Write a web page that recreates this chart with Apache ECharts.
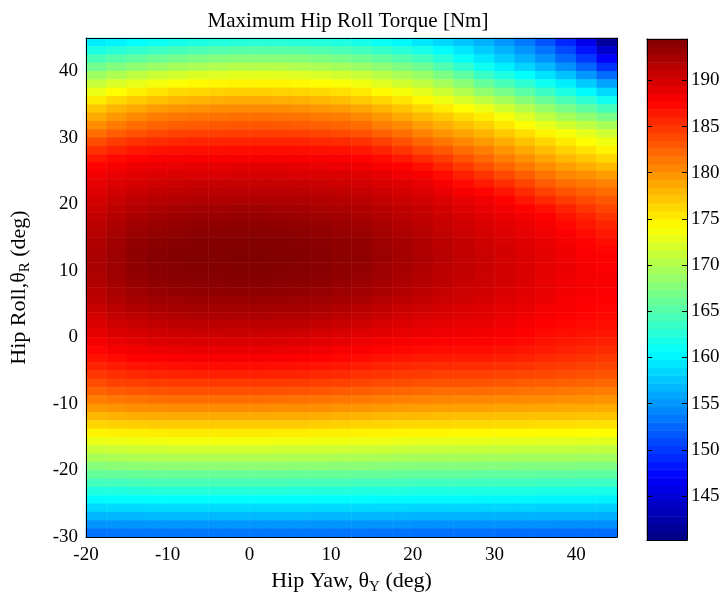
<!DOCTYPE html>
<html><head><meta charset="utf-8">
<script src="https://cdn.jsdelivr.net/npm/echarts@6/dist/echarts.min.js"></script>
<style>html,body{margin:0;padding:0;background:#fff}#c{width:725px;height:602px}</style>
</head><body><div id="c"></div>
<script>
// Hip yaw cell centres (deg), left to right
const yawCenters = [-18.75,-16.25,-13.75,-11.25,-8.75,-6.25,-3.75,-1.25,1.25,3.75,6.25,8.75,11.25,13.75,16.25,18.75,21.25,23.75,26.25,28.75,31.25,33.75,36.25,38.75,41.25,43.75];
// Hip roll cell centres (deg), top to bottom
const rollCenters = [44.375,43.125,41.875,40.625,39.375,38.125,36.875,35.625,34.375,33.125,31.875,30.625,29.375,28.125,26.875,25.625,24.375,23.125,21.875,20.625,19.375,18.125,16.875,15.625,14.375,13.125,11.875,10.625,9.375,8.125,6.875,5.625,4.375,3.125,1.875,0.625,-0.625,-1.875,-3.125,-4.375,-5.625,-6.875,-8.125,-9.375,-10.625,-11.875,-13.125,-14.375,-15.625,-16.875,-18.125,-19.375,-20.625,-21.875,-23.125,-24.375,-25.625,-26.875,-28.125,-29.375];
// Maximum hip roll torque [Nm], one row per roll centre (top to bottom), one value per yaw centre
const torqueRows = [
[159.6,160.0,160.6,161.1,161.6,162.0,162.3,162.5,162.6,162.6,162.5,162.4,162.1,161.6,161.0,160.2,159.3,158.5,157.5,156.5,155.1,153.5,151.5,149.1,146.0,141.8],
[162.0,162.6,163.2,163.7,164.2,164.6,164.9,165.1,165.2,165.2,165.1,164.8,164.5,164.0,163.4,162.6,161.7,160.5,159.3,157.9,156.5,154.9,153.1,150.9,148.0,144.3],
[164.3,165.1,165.7,166.3,166.8,167.2,167.5,167.7,167.7,167.7,167.6,167.3,166.9,166.4,165.7,164.9,164.0,162.6,161.0,159.4,157.9,156.4,154.8,152.6,150.0,146.8],
[166.6,167.5,168.2,168.8,169.3,169.7,170.0,170.2,170.2,170.2,170.0,169.7,169.3,168.8,168.1,167.3,166.4,164.8,163.1,161.3,159.8,158.3,156.8,154.8,152.4,149.6],
[168.9,169.8,170.7,171.3,171.8,172.2,172.4,172.6,172.6,172.5,172.3,172.0,171.7,171.2,170.4,169.6,168.7,167.2,165.6,163.6,162.1,160.6,159.1,157.3,155.1,152.7],
[171.1,172.1,172.9,173.5,174.0,174.4,174.6,174.8,174.8,174.7,174.5,174.2,173.9,173.4,172.5,171.7,170.8,169.4,167.9,166.0,164.5,163.0,161.4,159.7,157.8,155.7],
[173.2,174.2,175.0,175.6,176.1,176.4,176.6,176.7,176.7,176.6,176.4,176.1,175.8,175.3,174.4,173.6,172.7,171.4,170.0,168.3,166.9,165.4,163.8,162.1,160.4,158.6],
[175.2,176.2,176.9,177.5,178.0,178.3,178.5,178.6,178.6,178.5,178.3,178.0,177.6,177.1,176.3,175.5,174.5,173.3,172.1,170.7,169.3,167.8,166.2,164.5,163.0,161.4],
[177.1,178.1,178.8,179.4,179.8,180.0,180.2,180.3,180.3,180.2,180.0,179.7,179.4,178.9,178.1,177.2,176.2,175.2,174.2,173.1,171.7,170.2,168.5,167.0,165.6,164.2],
[178.7,179.7,180.4,181.0,181.4,181.6,181.7,181.8,181.8,181.7,181.6,181.3,181.0,180.5,179.7,178.8,177.8,176.9,176.0,175.1,173.7,172.3,170.8,169.4,168.2,166.9],
[180.2,181.2,181.9,182.4,182.7,182.9,183.0,183.1,183.1,183.0,182.9,182.6,182.3,181.9,181.1,180.3,179.3,178.4,177.5,176.6,175.4,174.2,172.9,171.7,170.7,169.5],
[181.8,182.8,183.4,183.9,184.2,184.3,184.3,184.4,184.4,184.4,184.3,184.1,183.8,183.4,182.6,181.8,180.8,179.9,179.0,178.1,177.0,175.9,174.8,173.7,172.7,171.6],
[183.6,184.5,185.1,185.4,185.7,185.8,185.8,185.9,185.9,185.9,185.8,185.6,185.4,185.1,184.3,183.4,182.3,181.4,180.5,179.6,178.5,177.4,176.3,175.2,174.2,173.3],
[185.2,185.9,186.5,186.8,186.9,187.0,187.0,187.1,187.1,187.1,187.0,186.9,186.8,186.5,185.8,184.9,183.9,183.0,182.0,181.0,179.9,178.8,177.7,176.6,175.7,174.8],
[186.6,187.2,187.6,187.9,188.0,188.1,188.1,188.2,188.2,188.2,188.1,188.0,187.9,187.6,187.1,186.4,185.5,184.5,183.3,182.2,181.1,180.0,179.0,177.9,177.1,176.3],
[187.7,188.2,188.6,188.8,188.9,189.0,189.0,189.1,189.1,189.1,189.0,188.9,188.8,188.6,188.1,187.6,186.9,185.8,184.7,183.5,182.4,181.3,180.3,179.3,178.5,177.8],
[188.4,188.9,189.3,189.5,189.7,189.8,189.8,189.9,189.9,189.9,189.8,189.7,189.6,189.4,189.0,188.5,188.0,187.1,186.0,185.0,183.9,182.7,181.6,180.6,180.0,179.4],
[189.0,189.5,189.9,190.2,190.4,190.6,190.6,190.7,190.7,190.7,190.6,190.5,190.3,190.1,189.7,189.3,188.8,188.1,187.2,186.3,185.3,184.1,182.9,182.0,181.3,180.8],
[189.5,190.1,190.6,190.9,191.1,191.3,191.3,191.4,191.4,191.4,191.3,191.2,191.0,190.8,190.4,190.0,189.5,188.8,188.1,187.5,186.6,185.4,184.2,183.3,182.6,182.0],
[190.0,190.7,191.2,191.5,191.7,191.9,191.9,192.0,192.0,192.0,191.9,191.8,191.6,191.4,191.0,190.5,190.1,189.5,188.9,188.4,187.6,186.6,185.6,184.6,183.8,183.1],
[190.5,191.2,191.7,192.1,192.4,192.6,192.6,192.7,192.7,192.6,192.5,192.3,192.1,191.9,191.5,191.0,190.6,190.0,189.4,188.9,188.3,187.6,186.9,185.9,184.9,184.1],
[190.9,191.6,192.2,192.6,192.9,193.1,193.1,193.2,193.2,193.1,193.0,192.8,192.6,192.3,191.9,191.4,191.0,190.4,189.9,189.3,188.8,188.3,187.7,186.8,185.9,185.0],
[191.3,192.1,192.7,193.1,193.4,193.6,193.6,193.7,193.7,193.6,193.5,193.3,193.0,192.7,192.3,191.8,191.3,190.7,190.2,189.7,189.2,188.7,188.2,187.4,186.6,185.8],
[191.6,192.4,193.1,193.5,193.7,193.9,193.9,194.0,194.0,193.9,193.8,193.6,193.3,193.1,192.6,192.1,191.6,191.0,190.5,190.0,189.5,189.0,188.5,187.9,187.1,186.5],
[191.9,192.7,193.4,193.8,194.0,194.2,194.2,194.3,194.3,194.2,194.1,193.9,193.6,193.4,192.9,192.4,191.8,191.3,190.8,190.3,189.8,189.3,188.8,188.2,187.6,187.0],
[192.1,192.9,193.6,194.0,194.2,194.3,194.3,194.4,194.4,194.3,194.2,194.0,193.7,193.5,193.0,192.5,191.9,191.4,190.9,190.5,190.0,189.5,189.0,188.4,187.9,187.5],
[192.2,193.0,193.7,194.1,194.3,194.4,194.4,194.5,194.5,194.4,194.3,194.1,193.8,193.6,193.1,192.6,192.0,191.5,191.0,190.6,190.1,189.6,189.1,188.5,188.1,187.8],
[192.2,193.0,193.6,194.0,194.2,194.3,194.3,194.4,194.4,194.3,194.2,194.0,193.7,193.5,193.0,192.5,191.9,191.4,191.0,190.6,190.1,189.6,189.1,188.6,188.2,187.9],
[192.1,192.9,193.5,193.9,194.1,194.2,194.2,194.3,194.3,194.2,194.1,193.9,193.6,193.3,192.8,192.3,191.8,191.3,190.9,190.5,190.1,189.6,189.0,188.6,188.3,188.0],
[191.9,192.6,193.2,193.6,193.8,193.9,193.9,194.0,194.0,193.9,193.8,193.6,193.3,193.0,192.5,192.1,191.6,191.1,190.7,190.4,190.0,189.5,188.9,188.5,188.2,188.0],
[191.6,192.3,192.9,193.3,193.5,193.6,193.6,193.7,193.7,193.6,193.5,193.3,193.0,192.7,192.2,191.8,191.3,190.8,190.5,190.2,189.8,189.3,188.8,188.4,188.1,187.9],
[191.2,191.9,192.4,192.8,193.0,193.1,193.1,193.2,193.2,193.1,193.0,192.8,192.5,192.2,191.7,191.3,190.9,190.5,190.2,189.9,189.5,189.1,188.6,188.2,187.9,187.7],
[190.7,191.4,191.9,192.2,192.4,192.6,192.6,192.6,192.6,192.5,192.4,192.2,191.9,191.5,191.1,190.7,190.4,190.0,189.7,189.5,189.1,188.8,188.3,188.0,187.7,187.5],
[190.1,190.8,191.3,191.6,191.8,192.0,192.0,192.0,192.0,191.9,191.8,191.6,191.3,190.9,190.5,190.1,189.8,189.6,189.3,189.1,188.8,188.4,188.0,187.7,187.5,187.3],
[189.6,190.2,190.6,190.9,191.1,191.3,191.3,191.3,191.3,191.2,191.1,190.9,190.6,190.2,189.8,189.5,189.2,189.1,188.9,188.8,188.5,188.1,187.7,187.4,187.2,187.0],
[189.0,189.5,189.9,190.2,190.4,190.5,190.5,190.6,190.5,190.4,190.3,190.1,189.8,189.4,189.1,188.9,188.6,188.5,188.4,188.3,188.0,187.7,187.3,187.0,186.8,186.6],
[188.3,188.8,189.2,189.5,189.6,189.7,189.7,189.7,189.7,189.6,189.5,189.3,189.0,188.7,188.4,188.2,187.9,187.8,187.8,187.8,187.5,187.2,186.8,186.5,186.3,186.1],
[187.5,188.0,188.4,188.7,188.8,188.9,188.9,188.9,188.9,188.8,188.7,188.5,188.2,187.9,187.6,187.4,187.2,187.1,187.1,187.1,186.8,186.6,186.3,186.0,185.7,185.5],
[186.7,187.2,187.6,187.8,187.9,188.0,188.0,188.0,188.0,187.9,187.8,187.6,187.4,187.1,186.8,186.6,186.4,186.3,186.3,186.3,186.1,185.9,185.6,185.3,185.0,184.8],
[185.8,186.3,186.7,186.9,187.0,187.1,187.1,187.1,187.1,187.0,186.9,186.7,186.5,186.2,185.9,185.7,185.5,185.4,185.4,185.4,185.2,185.0,184.8,184.6,184.3,184.1],
[184.8,185.3,185.6,185.8,185.9,186.0,186.0,186.0,186.0,185.9,185.8,185.6,185.4,185.1,184.9,184.7,184.5,184.4,184.4,184.3,184.2,184.0,183.9,183.7,183.4,183.2],
[183.7,184.2,184.4,184.6,184.7,184.7,184.7,184.7,184.7,184.6,184.5,184.4,184.2,184.0,183.8,183.6,183.4,183.3,183.3,183.2,183.1,182.9,182.8,182.6,182.4,182.2],
[182.4,182.9,183.1,183.3,183.4,183.4,183.4,183.4,183.4,183.3,183.2,183.1,182.9,182.7,182.5,182.3,182.1,182.0,182.0,181.9,181.8,181.7,181.6,181.4,181.2,181.1],
[181.1,181.4,181.6,181.8,181.9,181.9,181.9,181.9,181.9,181.8,181.7,181.6,181.4,181.3,181.1,180.9,180.8,180.7,180.6,180.6,180.5,180.4,180.3,180.1,180.0,179.9],
[179.6,179.9,180.1,180.2,180.3,180.3,180.3,180.3,180.3,180.2,180.2,180.1,179.9,179.8,179.6,179.4,179.3,179.2,179.1,179.1,179.0,179.0,178.9,178.8,178.7,178.6],
[178.0,178.3,178.5,178.6,178.7,178.7,178.7,178.7,178.7,178.6,178.6,178.5,178.3,178.2,178.0,177.9,177.8,177.7,177.6,177.6,177.5,177.5,177.4,177.4,177.3,177.2],
[176.4,176.6,176.8,176.9,177.0,177.0,177.0,177.0,177.0,176.9,176.9,176.8,176.6,176.5,176.4,176.3,176.2,176.2,176.1,176.1,176.0,176.0,175.9,175.9,175.8,175.7],
[174.7,174.9,175.0,175.1,175.2,175.2,175.2,175.2,175.2,175.1,175.1,175.0,175.0,174.9,174.8,174.7,174.6,174.6,174.5,174.5,174.4,174.4,174.3,174.3,174.2,174.2],
[173.0,173.2,173.3,173.4,173.5,173.5,173.5,173.5,173.5,173.4,173.4,173.3,173.3,173.2,173.1,173.0,172.9,172.9,172.8,172.8,172.7,172.7,172.6,172.6,172.5,172.5],
[171.2,171.4,171.5,171.6,171.7,171.7,171.7,171.7,171.7,171.6,171.6,171.5,171.5,171.4,171.3,171.2,171.1,171.1,171.0,171.0,171.0,170.9,170.9,170.9,170.8,170.8],
[169.5,169.7,169.8,169.9,169.9,169.9,169.9,169.9,169.9,169.9,169.8,169.8,169.7,169.7,169.6,169.5,169.4,169.4,169.4,169.3,169.3,169.2,169.2,169.2,169.1,169.1],
[167.7,167.9,168.0,168.1,168.1,168.1,168.1,168.1,168.1,168.1,168.0,168.0,167.9,167.9,167.8,167.7,167.6,167.6,167.6,167.5,167.5,167.4,167.4,167.4,167.3,167.3],
[165.9,166.0,166.1,166.2,166.2,166.2,166.2,166.2,166.2,166.2,166.1,166.1,166.1,166.0,166.0,165.9,165.8,165.8,165.8,165.7,165.7,165.7,165.6,165.6,165.5,165.5],
[164.1,164.2,164.3,164.4,164.4,164.4,164.4,164.4,164.4,164.4,164.3,164.3,164.3,164.2,164.2,164.1,164.0,164.0,164.0,163.9,163.9,163.9,163.8,163.8,163.7,163.7],
[162.2,162.3,162.4,162.5,162.5,162.5,162.5,162.5,162.5,162.5,162.4,162.4,162.4,162.3,162.3,162.2,162.1,162.1,162.1,162.0,162.0,162.0,161.9,161.9,161.9,161.8],
[160.4,160.5,160.5,160.6,160.6,160.6,160.6,160.6,160.6,160.6,160.6,160.5,160.5,160.5,160.4,160.4,160.3,160.3,160.3,160.2,160.2,160.2,160.1,160.1,160.1,160.0],
[158.5,158.6,158.6,158.7,158.7,158.7,158.7,158.7,158.7,158.7,158.7,158.6,158.6,158.6,158.5,158.5,158.4,158.4,158.4,158.3,158.3,158.3,158.2,158.2,158.2,158.1],
[156.7,156.8,156.8,156.9,156.9,156.9,156.9,156.9,156.9,156.9,156.9,156.8,156.8,156.8,156.7,156.7,156.6,156.6,156.6,156.5,156.5,156.5,156.4,156.4,156.4,156.3],
[154.9,155.0,155.0,155.1,155.1,155.1,155.1,155.1,155.1,155.1,155.1,155.0,155.0,155.0,154.9,154.9,154.8,154.8,154.8,154.8,154.7,154.7,154.7,154.6,154.6,154.6],
[153.1,153.2,153.2,153.3,153.3,153.3,153.3,153.3,153.3,153.3,153.3,153.2,153.2,153.2,153.1,153.1,153.0,153.0,153.0,153.0,152.9,152.9,152.9,152.8,152.8,152.8]
];
const yawRange = [-20, 45];
const rollRange = [-30, 45];
const colorbarTicks = [145,150,155,160,165,170,175,180,185,190];
const colorbarRange = [140.24, 194.48];

// ---- presentation ----
const FONT = 'Liberation Serif';
const FS = 19, FSN = 22;
const jet = ['#000080','#0000ff','#0080ff','#00ffff','#80ff80','#ffff00','#ff8000','#ff0000','#800000'];
const NLEV = 64; // colormap size
const cbCats = [], cbData = [];
for (let i = 0; i < NLEV; i++) {
  cbCats.push(i);
  cbData.push([0, i, colorbarRange[0] + (i + 0.5) * (colorbarRange[1] - colorbarRange[0]) / NLEV]);
}
const heat = [];
torqueRows.forEach((row, r) => row.forEach((v, c) => heat.push([c, r, v])));

const lineOnly = {axisLine:{show:true,onZero:false,lineStyle:{color:'#000',width:1}},axisTick:{show:false},axisLabel:{show:false},splitLine:{show:false}};
const lbl = {color:'#000', fontFamily:FONT, fontSize:FS};
const richName = {n:{fontFamily:FONT,fontSize:FSN,color:'#000'}, s:{fontFamily:FONT,fontSize:15,color:'#000',padding:[12,0,0,0]}};

const chart = echarts.init(document.getElementById('c'), null, {renderer:'canvas'});
chart.setOption({
  animation:false,
  backgroundColor:'#fff',
  title:{text:'Maximum Hip Roll Torque [Nm]', left:343, top:6, textAlign:'center',
    textStyle:{fontFamily:FONT, fontSize:21, fontWeight:'normal', color:'#000'}},
  grid:[
    {left:86, top:38, width:531, height:499, containLabel:false},
    {left:647, top:39, width:40, height:501, containLabel:false}
  ],
  visualMap:{type:'continuous', show:false, min:colorbarRange[0], max:colorbarRange[1], dimension:2, seriesIndex:[0,1], inRange:{color:jet}},
  xAxis:[
    {type:'category', gridIndex:0, data:yawCenters, show:false},
    Object.assign({type:'value', gridIndex:0, min:yawRange[0], max:yawRange[1], interval:10, position:'bottom', z:10,
      name:'{n|Hip Yaw, θ}{s|Y}{n| (deg)}', nameLocation:'middle', nameGap:29,
      nameTextStyle:{rich:richName}},
      lineOnly, {axisLabel:Object.assign({show:true, margin:9, showMaxLabel:false}, lbl)}),
    Object.assign({type:'value', gridIndex:0, min:yawRange[0], max:yawRange[1], position:'top', z:10}, lineOnly),
    {type:'category', gridIndex:1, data:['c'], show:false},
    Object.assign({type:'value', gridIndex:1, min:0, max:1, position:'bottom', z:10}, lineOnly),
    Object.assign({type:'value', gridIndex:1, min:0, max:1, position:'top', z:10}, lineOnly)
  ],
  yAxis:[
    {type:'category', gridIndex:0, data:rollCenters, inverse:true, show:false},
    Object.assign({type:'value', gridIndex:0, min:rollRange[0], max:rollRange[1], interval:10, position:'left', z:10,
      name:'{n|Hip Roll,θ}{s|R}{n| (deg)}', nameLocation:'middle', nameGap:53, nameRotate:90,
      nameTextStyle:{rich:richName}},
      lineOnly, {axisLabel:Object.assign({show:true, margin:8, showMaxLabel:false}, lbl)}),
    Object.assign({type:'value', gridIndex:0, min:rollRange[0], max:rollRange[1], position:'right', z:10}, lineOnly),
    {type:'category', gridIndex:1, data:cbCats, show:false},
    Object.assign({type:'value', gridIndex:1, min:colorbarRange[0], max:colorbarRange[1], position:'right', z:10}, lineOnly,
      {axisTick:{show:true, inside:true, length:5, lineStyle:{color:'#000'}, customValues:colorbarTicks},
       axisLabel:Object.assign({show:true, margin:4, customValues:colorbarTicks}, lbl)}),
    Object.assign({type:'value', gridIndex:1, min:colorbarRange[0], max:colorbarRange[1], position:'left', z:10}, lineOnly,
      {axisTick:{show:true, inside:true, length:5, lineStyle:{color:'#000'}, customValues:colorbarTicks}})
  ],
  series:[
    {type:'heatmap', xAxisIndex:0, yAxisIndex:0, data:heat, progressive:0, emphasis:{disabled:true}, itemStyle:{borderWidth:0}},
    {type:'heatmap', xAxisIndex:3, yAxisIndex:3, data:cbData, progressive:0, emphasis:{disabled:true}, itemStyle:{borderWidth:0}}
  ]
});
</script></body></html>
